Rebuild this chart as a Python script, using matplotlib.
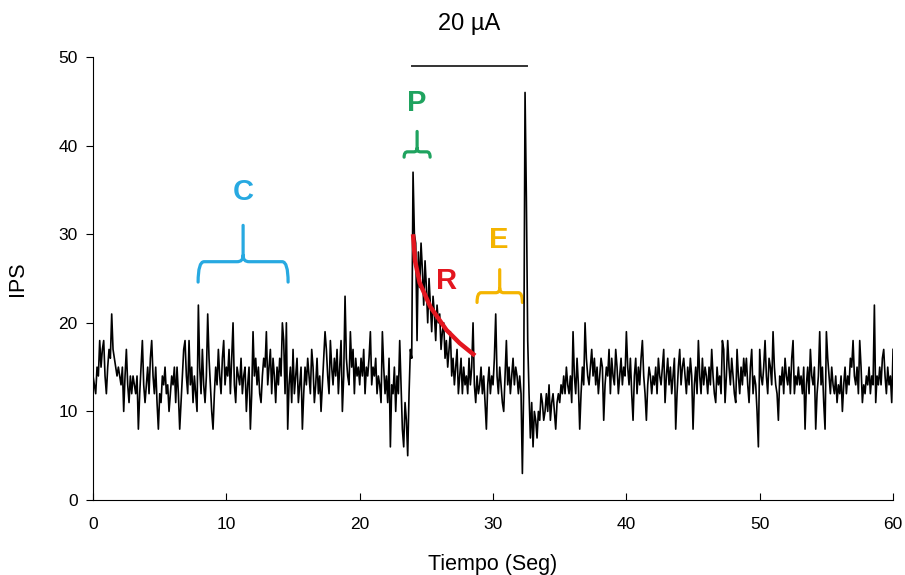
import numpy as np
from matplotlib import pyplot as plt
from matplotlib.path import Path
from matplotlib.patches import PathPatch

plt.rcParams['font.family'] = ['Liberation Sans', 'DejaVu Sans']

# IPS registrado cada 0.1 s (una fila por segundo)
ips = [
    14, 13, 12, 15, 14, 18, 15, 17, 18, 14,
    12, 15, 17, 16, 21, 17, 16, 15, 14, 15,
    14, 13, 15, 10, 14, 17, 13, 11, 14, 12,
    14, 13, 12, 14, 8, 12, 15, 18, 13, 11,
    13, 15, 12, 16, 18, 14, 12, 15, 11, 8,
    12, 11, 14, 13, 15, 12, 13, 10, 12, 14,
    13, 15, 11, 15, 12, 8, 11, 14, 17, 18,
    14, 12, 18, 13, 15, 11, 14, 12, 10, 22,
    15, 12, 17, 13, 11, 14, 21, 16, 13, 10,
    8, 12, 15, 13, 17, 14, 12, 16, 18, 13,
    15, 14, 17, 12, 16, 20, 13, 11, 15, 14,
    13, 16, 12, 14, 15, 10, 13, 15, 8, 12,
    19, 14, 16, 13, 15, 12, 11, 14, 16, 15,
    19, 13, 15, 17, 12, 16, 14, 11, 15, 13,
    16, 14, 20, 18, 12, 20, 8, 13, 15, 11,
    17, 12, 14, 16, 11, 13, 15, 8, 12, 15,
    13, 16, 14, 12, 17, 15, 11, 13, 16, 12,
    14, 10, 13, 16, 19, 17, 14, 12, 18, 15,
    13, 16, 14, 17, 12, 15, 18, 10, 14, 23,
    16, 14, 13, 19, 15, 17, 12, 16, 14, 15,
    13, 16, 14, 17, 12, 15, 14, 16, 19, 13,
    15, 14, 16, 12, 14, 13, 11, 19, 15, 12,
    14, 11, 16, 6, 13, 12, 15, 10, 14, 12,
    18, 13, 8, 6, 11, 9, 5, 12, 17, 16,
    37, 30, 29, 18, 28, 24, 29, 26, 22, 27,
    24, 20, 25, 22, 19, 23, 21, 18, 22, 20,
    21, 17, 19, 20, 16, 18, 15, 17, 19, 14,
    16, 13, 15, 17, 12, 14, 16, 12, 15, 13,
    14, 12, 16, 13, 15, 20, 13, 11, 14, 12,
    13, 15, 12, 14, 11, 8, 13, 15, 12, 14,
    13, 16, 21, 14, 12, 15, 13, 11, 10, 14,
    18, 13, 15, 12, 14, 16, 13, 15, 14, 12,
    14, 12, 3, 13, 46, 34, 18, 12, 7, 11,
    6, 10, 9, 7, 10, 9, 12, 11, 9, 10,
    12, 10, 13, 9, 11, 12, 10, 8, 11, 12,
    11, 13, 12, 14, 12, 15, 13, 12, 14, 11,
    19, 14, 12, 16, 13, 8, 12, 15, 13, 20,
    16, 14, 13, 15, 17, 14, 16, 13, 15, 12,
    14, 16, 15, 9, 13, 15, 14, 17, 12, 16,
    14, 13, 17, 15, 12, 14, 16, 13, 15, 14,
    19, 15, 13, 16, 12, 9, 14, 16, 12, 15,
    13, 16, 18, 14, 12, 9, 13, 15, 14, 12,
    14, 13, 15, 12, 16, 14, 13, 15, 17, 11,
    14, 16, 13, 15, 12, 14, 16, 8, 12, 15,
    17, 13, 15, 16, 14, 12, 15, 13, 16, 14,
    8, 13, 15, 12, 18, 14, 12, 16, 13, 15,
    14, 12, 15, 13, 17, 14, 12, 11, 15, 13,
    14, 12, 18, 17, 11, 14, 18, 15, 13, 16,
    14, 12, 11, 17, 14, 12, 15, 13, 16, 14,
    16, 13, 11, 15, 17, 12, 14, 13, 10, 6,
    17, 14, 13, 15, 18, 14, 12, 16, 15, 13,
    19, 15, 13, 12, 9, 14, 13, 15, 12, 16,
    14, 13, 15, 12, 16, 18, 12, 14, 13, 15,
    13, 14, 12, 15, 8, 13, 15, 12, 17, 14,
    13, 15, 8, 12, 14, 19, 13, 15, 11, 8,
    19, 16, 14, 12, 15, 13, 12, 14, 11, 13,
    12, 14, 10, 13, 15, 12, 14, 13, 16, 15,
    18, 14, 13, 15, 12, 18, 15, 11, 13, 12,
    14, 13, 15, 12, 14, 13, 22, 11, 14, 13,
    15, 13, 16, 17, 14, 12, 15, 13, 14, 11,
    17,
]
tiempo = np.arange(len(ips)) * 0.1

# curva de recuperacion (R)
t_rec = [24.0, 24.15, 24.5, 25.3, 26.5, 27.5, 28.65]
ips_rec = [30.0, 27.0, 24.5, 21.8, 19.2, 17.7, 16.3]

# estimulo 20 uA
t_estim = [23.9, 32.55]

azul = '#27a9e1'
verde = '#1fa35f'
rojo = '#e3161f'
amarillo = '#f4b400'


def llave(ax, x0, x1, y, baja, alta, color, r=0.35, ry=0.6):
    # llave horizontal con puntas hacia abajo y pico hacia arriba
    xc = (x0 + x1) / 2
    verts = [(x0, y - baja), (x0, y), (x0 + r, y),
             (xc - r, y), (xc, y), (xc, y + ry),
             (xc, y + alta),
             (xc, y + ry), (xc, y), (xc + r, y),
             (x1 - r, y), (x1, y), (x1, y - baja)]
    codes = [Path.MOVETO, Path.CURVE3, Path.CURVE3,
             Path.LINETO, Path.CURVE3, Path.CURVE3,
             Path.LINETO,
             Path.MOVETO, Path.CURVE3, Path.CURVE3,
             Path.LINETO, Path.CURVE3, Path.CURVE3]
    ax.add_patch(PathPatch(Path(verts, codes), fill=False, edgecolor=color,
                           lw=2.3, capstyle='round'))


fig = plt.figure(figsize=(9.05, 5.75), dpi=100)
ax = fig.add_axes([0.1028, 0.1304, 0.884, 0.7704])

ax.plot(tiempo, ips, color='black', lw=1.2)
ax.plot(t_rec, ips_rec, color=rojo, lw=3.2, solid_capstyle='butt')

ax.plot(t_estim, [49.0, 49.0], color='#333333', lw=1.4, clip_on=False)
ax.text(sum(t_estim) / 2, 53.7, '20 µA', ha='center', va='center', fontsize=17,
        clip_on=False)

llave(ax, 7.88, 14.63, 26.9, 2.3, 4.1, azul, r=0.45, ry=0.7)
ax.text(11.25, 34.8, 'C', color=azul, fontsize=21, fontweight='bold',
        ha='center', va='center')

llave(ax, 23.33, 25.28, 39.3, 0.6, 2.3, verde, r=0.25, ry=0.4)
ax.text(24.3, 44.8, 'P', color=verde, fontsize=21, fontweight='bold',
        ha='center', va='center')

ax.text(26.55, 24.7, 'R', color=rojo, fontsize=21, fontweight='bold',
        ha='center', va='center')

llave(ax, 28.8, 32.2, 23.4, 1.1, 2.6, amarillo, r=0.3, ry=0.5)
ax.text(30.45, 29.3, 'E', color=amarillo, fontsize=21, fontweight='bold',
        ha='center', va='center')

ax.set_xlim(0, 60)
ax.set_ylim(0, 50)
ax.set_xticks(range(0, 61, 10))
ax.set_yticks(range(0, 51, 10))
ax.tick_params(axis='x', direction='in', length=5, labelsize=12.5, pad=12)
ax.tick_params(axis='y', direction='out', length=5, labelsize=12.5, pad=6)
ax.spines['top'].set_visible(False)
ax.spines['right'].set_visible(False)
ax.set_xlabel('Tiempo (Seg)', fontsize=15.5, labelpad=16)
ax.set_ylabel('IPS', fontsize=15.5, labelpad=22)

fig.savefig('out.png', dpi=100)
